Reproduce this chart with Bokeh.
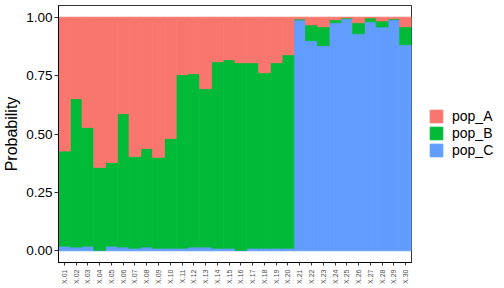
import math
from bokeh.plotting import figure
from bokeh.models import FactorRange, Range1d, Legend, LegendItem, ColumnDataSource, FixedTicker, CustomJSTickFormatter
from bokeh.embed import file_html
from bokeh.resources import INLINE

individuals = ["X.%02d" % i for i in range(1, 31)]
pop_A = [0.573, 0.349, 0.472, 0.643, 0.622, 0.413, 0.596, 0.562, 0.600, 0.519,
         0.246, 0.242, 0.306, 0.191, 0.182, 0.195, 0.195, 0.238, 0.195, 0.161,
         0.008, 0.033, 0.041, 0.011, 0.003, 0.024, 0.003, 0.016, 0.007, 0.041]
pop_B = [0.407, 0.635, 0.508, 0.355, 0.358, 0.571, 0.393, 0.422, 0.389, 0.470,
         0.743, 0.742, 0.678, 0.798, 0.807, 0.803, 0.794, 0.751, 0.794, 0.828,
         0.004, 0.068, 0.081, 0.013, 0.004, 0.047, 0.017, 0.026, 0.004, 0.077]
pop_C = [0.020, 0.016, 0.020, 0.002, 0.020, 0.016, 0.011, 0.016, 0.011, 0.011,
         0.011, 0.016, 0.016, 0.011, 0.011, 0.002, 0.011, 0.011, 0.011, 0.011,
         0.988, 0.899, 0.878, 0.976, 0.993, 0.929, 0.980, 0.958, 0.989, 0.882]
y_ticks = [0.0, 0.25, 0.5, 0.75, 1.0]
colors = {"pop_A": "#F8766D", "pop_B": "#00BA38", "pop_C": "#619CFF"}

source = ColumnDataSource(dict(ind=individuals, pop_A=pop_A, pop_B=pop_B, pop_C=pop_C))

p = figure(frame_width=353, frame_height=257, output_backend="svg", toolbar_location=None,
           x_range=FactorRange(factors=individuals, range_padding=0),
           y_range=Range1d(-0.05, 1.05),
           min_border_left=58, min_border_right=93, min_border_top=5, min_border_bottom=26)

stack = ["pop_C", "pop_B", "pop_A"]
rs = p.vbar_stack(stack, x="ind", width=1.0, source=source,
                  fill_color=[colors[s] for s in stack],
                  line_color=[colors[s] for s in stack], line_width=0.8)

p.xgrid.visible = False
p.ygrid.visible = False
p.outline_line_color = "#333333"
p.outline_line_width = 1
p.background_fill_color = "white"
p.border_fill_color = "white"

p.yaxis.ticker = FixedTicker(ticks=y_ticks)
p.yaxis.formatter = CustomJSTickFormatter(code="return tick.toFixed(2);")
p.yaxis.axis_label = "Probability"
p.yaxis.axis_label_text_font = "Liberation Sans"
p.yaxis.axis_label_text_font_style = "normal"
p.yaxis.axis_label_text_font_size = "16px"
p.yaxis.axis_label_text_color = "black"
p.yaxis.axis_label_standoff = 3
p.yaxis.major_label_text_font = "Liberation Sans"
p.yaxis.major_label_text_font_size = "13.5px"
p.yaxis.major_label_text_color = "black"
p.yaxis.major_label_standoff = 2
p.yaxis.major_tick_out = 4
p.yaxis.major_tick_in = 0
p.yaxis.minor_tick_out = 0
p.yaxis.minor_tick_in = 0
p.yaxis.axis_line_color = "black"
p.yaxis.major_tick_line_color = "#333333"

p.xaxis.major_label_orientation = math.pi / 2
p.xaxis.major_label_text_font = "Liberation Sans"
p.xaxis.major_label_text_font_size = "7px"
p.xaxis.major_label_text_color = "#4D4D4D"
p.xaxis.major_label_standoff = 4
p.xaxis.major_tick_out = 3
p.xaxis.major_tick_in = 0
p.xaxis.axis_line_color = "black"
p.xaxis.major_tick_line_color = "#333333"

items = [LegendItem(label=s, renderers=[rs[stack.index(s)]]) for s in ["pop_A", "pop_B", "pop_C"]]
legend = Legend(items=items, location=(17, 104), orientation="vertical")
legend.border_line_color = None
legend.background_fill_alpha = 0
legend.margin = 0
legend.padding = 0
legend.spacing = 1
legend.glyph_width = 16
legend.glyph_height = 16
legend.label_standoff = 8
legend.label_text_font = "Liberation Sans"
legend.label_text_font_size = "14px"
legend.label_text_color = "black"
legend.label_width = 52
p.add_layout(legend, "right")

open("out.html", "w").write(file_html(p, INLINE))
